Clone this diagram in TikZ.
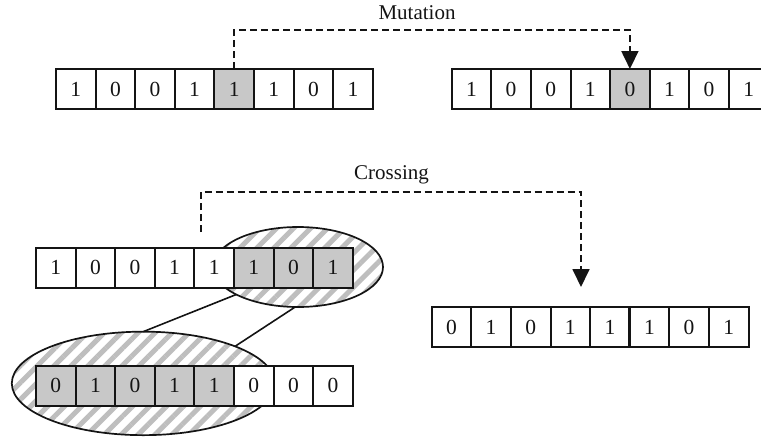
\documentclass[tikz,border=0pt]{standalone}
\usepackage{fontspec}
\setmainfont{Liberation Serif}
\usetikzlibrary{arrows.meta,shapes.geometric,patterns.meta}
\definecolor{cellgray}{RGB}{200,200,200}
\definecolor{hatchgray}{RGB}{190,190,190}
\definecolor{ink}{RGB}{20,20,20}
\begin{document}
\begin{tikzpicture}[x=1pt,y=-1pt,
  cell/.style={draw=ink, line width=2pt, minimum width=39.6pt, minimum height=40pt, inner sep=0pt, outer sep=0pt, fill=white, text=ink, font=\fontsize{21.5}{25}\selectfont},
  graycell/.style={cell, fill=cellgray},
  lbl/.style={font=\fontsize{21}{25}\selectfont, anchor=base, inner sep=0pt, text=ink},
  dashline/.style={draw=ink, line width=1.8pt, dash pattern=on 7pt off 4pt},
  tip/.style={-{Triangle[length=18pt,width=17pt,fill=ink]}},
  hatched/.style={ellipse, draw=ink, line width=1.7pt, inner sep=0pt, outer sep=0pt, preaction={fill=white}, pattern={Lines[angle=45,distance=12pt,line width=5pt]}, pattern color=hatchgray},
  link/.style={draw=ink, line width=1.6pt}
]
\useasboundingbox (0,0) rectangle (761,437);
\clip (0,0) rectangle (761,437);

% hatched ellipses
\node[hatched, minimum width=170pt, minimum height=80pt] (e1) at (298,267) {};
\node[hatched, minimum width=263pt, minimum height=103.5pt] (e2) at (143.3,383.4) {};
\draw[link] (e1.204.6) -- (e2.north);
\draw[link] (e1.266) -- (e2.22.3);

% mutation rows
\foreach \v/\s [count=\i from 0] in {1/cell,0/cell,0/cell,1/cell,1/graycell,1/cell,0/cell,1/cell}
  \node[\s] (A\i) at (75.8+39.6*\i, 89) {\v};
\foreach \v/\s [count=\i from 0] in {1/cell,0/cell,0/cell,1/cell,0/graycell,1/cell,0/cell,1/cell}
  \node[\s] (B\i) at (471.5+39.6*\i, 89) {\v};

% crossing rows
\foreach \v/\s [count=\i from 0] in {1/cell,0/cell,0/cell,1/cell,1/cell,1/graycell,0/graycell,1/graycell}
  \node[\s] (C\i) at (55.8+39.6*\i, 267.7) {\v};
\foreach \v/\s [count=\i from 0] in {0/graycell,1/graycell,0/graycell,1/graycell,1/graycell,0/cell,0/cell,0/cell}
  \node[\s] (D\i) at (55.8+39.6*\i, 385.7) {\v};
\foreach \v/\s [count=\i from 0] in {0/cell,1/cell,0/cell,1/cell,1/cell,1/cell,0/cell,1/cell}
  \node[\s] (E\i) at (451.5+39.6*\i, 327) {\v};
\draw[ink, line width=3pt] (E4.north east) -- (E4.south east);

% labels
\node[lbl] (mut) at (417,19) {Mutation};
\node[lbl] (cro) at (391.5,179) {Crossing};

% dashed connectors
\draw[dashline, tip] (A4.north) -- ++(0,-39) -| (B4.north);
\coordinate (cs) at (201,232);
\coordinate (ce) at (581,287);
\draw[dashline, tip] (cs) -- ++(0,-40.3) -| (ce);
\end{tikzpicture}
\end{document}
